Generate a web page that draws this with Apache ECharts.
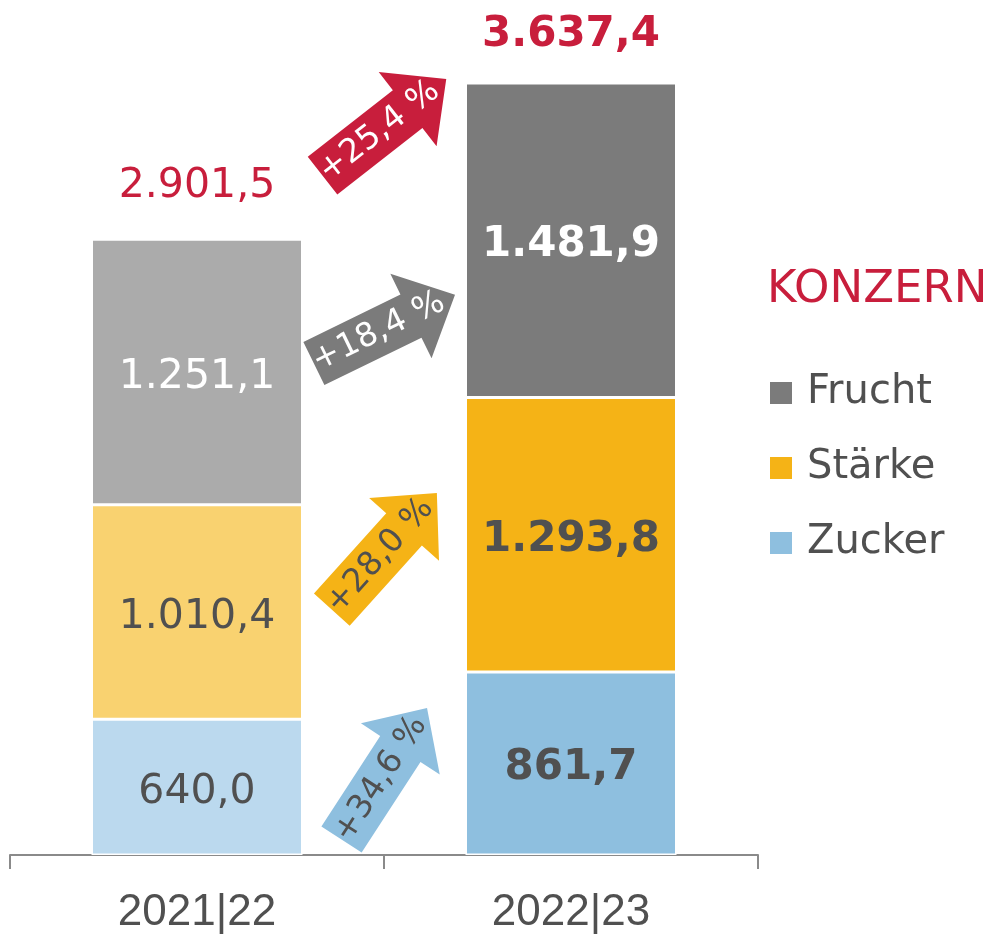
<!DOCTYPE html>
<html>
<head>
<meta charset="utf-8">
<script src="https://cdn.jsdelivr.net/npm/echarts@6/dist/echarts.min.js"></script>
<style>
html,body{margin:0;padding:0;background:#fff;}
#chart{width:992px;height:935px;}
</style>
</head>
<body>
<div id="chart"></div>
<script>
// ---- data ----
const categories = ['2021|22', '2022|23'];
const zucker = [640.0, 861.7];
const staerke = [1010.4, 1293.8];
const frucht = [1251.1, 1481.9];
const totals = [2901.5, 3637.4];
const growthLabels = ['+34,6 %', '+28,0 %', '+18,4 %', '+25,4 %'];

// ---- styling ----
const RED = '#C81E3C';
const TXT = '#505050';
const lightColors = { Zucker: '#BBD9EE', 'Stärke': '#F9D270', Frucht: '#ABABAB' };
const darkColors = { Zucker: '#8EBFDF', 'Stärke': '#F5B316', Frucht: '#7B7B7B' };
const FONT = '"DejaVu Sans", Verdana, sans-serif';

function fmt(v) {
  const parts = v.toFixed(1).split('.');
  const intPart = parts[0].replace(/\B(?=(\d{3})+(?!\d))/g, '.');
  return intPart + ',' + parts[1];
}

function segSeries(name, values, labelColor) {
  return {
    name: name,
    type: 'bar',
    stack: 'total',
    barWidth: 211,
    color: darkColors[name],
    itemStyle: { borderColor: '#fff', borderWidth: 1.5 },
    data: values.map((v, i) => ({
      value: v,
      itemStyle: { color: i === 0 ? lightColors[name] : darkColors[name] },
      label: {
        show: true,
        position: 'inside',
        offset: [0, 5],
        formatter: () => fmt(v),
        color: labelColor,
        fontFamily: FONT,
        fontSize: i === 0 ? 41 : 42,
        fontWeight: i === 0 ? 'normal' : 'bold'
      }
    }))
  };
}

// arrow annotations (placement in data units, angle in degrees)
const arrowStyle = [
  { anchor: 381, angle: 57, fill: darkColors.Zucker, text: TXT },
  { anchor: 1429, angle: 48, fill: darkColors['Stärke'], text: TXT },
  { anchor: 2477, angle: 26, fill: darkColors.Frucht, text: '#fff' },
  { anchor: 3427, angle: 38, fill: RED, text: '#fff' }
];

const chart = echarts.init(document.getElementById('chart'), null, { renderer: 'canvas' });

const option = {
  animation: false,
  backgroundColor: '#fff',
  title: {
    text: 'KONZERN',
    left: 762,
    top: 263,
    textStyle: { color: RED, fontFamily: FONT, fontSize: 45, fontWeight: 'normal' }
  },
  legend: {
    data: ['Frucht', 'Stärke', 'Zucker'],
    orient: 'vertical',
    left: 768,
    top: 369,
    padding: 0,
    icon: 'rect',
    itemWidth: 24,
    itemHeight: 24,
    itemGap: 27,
    textStyle: { color: TXT, fontFamily: FONT, fontSize: 40, lineHeight: 48, padding: [0, 0, 0, 9] }
  },
  grid: { left: 10, right: 234, top: 6, bottom: 78 },
  xAxis: {
    type: 'category',
    data: categories,
    axisLine: { lineStyle: { color: '#8A8A8A', width: 2 } },
    axisTick: { show: true, length: 14, lineStyle: { color: '#8A8A8A', width: 2 } },
    axisLabel: {
      color: TXT,
      fontFamily: '"Liberation Sans Narrow", "Liberation Sans", sans-serif',
      fontSize: 44,
      margin: 36
    }
  },
  yAxis: { type: 'value', min: 0, max: 4000, show: false, splitLine: { show: false } },
  series: [
    segSeries('Zucker', zucker, TXT),
    segSeries('Stärke', staerke, TXT),
    segSeries('Frucht', frucht, '#fff'),
    {
      name: 'Gesamt',
      type: 'bar',
      barWidth: 211,
      barGap: '-100%',
      itemStyle: { color: 'rgba(0,0,0,0)' },
      z: 1,
      data: totals.map((v, i) => ({
        value: v,
        label: {
          show: true,
          position: 'top',
          distance: i === 0 ? 29 : 24,
          formatter: () => fmt(v),
          color: RED,
          fontFamily: FONT,
          fontSize: i === 0 ? 41 : 42,
          fontWeight: i === 0 ? 'normal' : 'bold',
          lineHeight: 48
        }
      }))
    },
    {
      name: 'Wachstum',
      type: 'custom',
      z: 10,
      data: arrowStyle.map(a => [0, a.anchor]),
      renderItem: function (params, api) {
        const a = arrowStyle[params.dataIndex];
        const p0 = api.coord([0, a.anchor]);
        const p1 = api.coord([1, a.anchor]);
        const cx = (p0[0] + p1[0]) / 2;
        const cy = p0[1];
        return {
          type: 'group',
          x: cx,
          y: cy,
          rotation: a.angle * Math.PI / 180,
          children: [
            {
              type: 'polygon',
              shape: { points: [[-78, -24], [30, -24], [30, -47], [79, 0], [30, 47], [30, 24], [-78, 24]] },
              style: { fill: a.fill }
            },
            {
              type: 'text',
              x: -6,
              y: 0,
              style: {
                text: growthLabels[params.dataIndex],
                fill: a.text,
                font: '33px ' + FONT,
                align: 'center',
                verticalAlign: 'middle'
              }
            }
          ]
        };
      }
    }
  ]
};

chart.setOption(option);
</script>
</body>
</html>
